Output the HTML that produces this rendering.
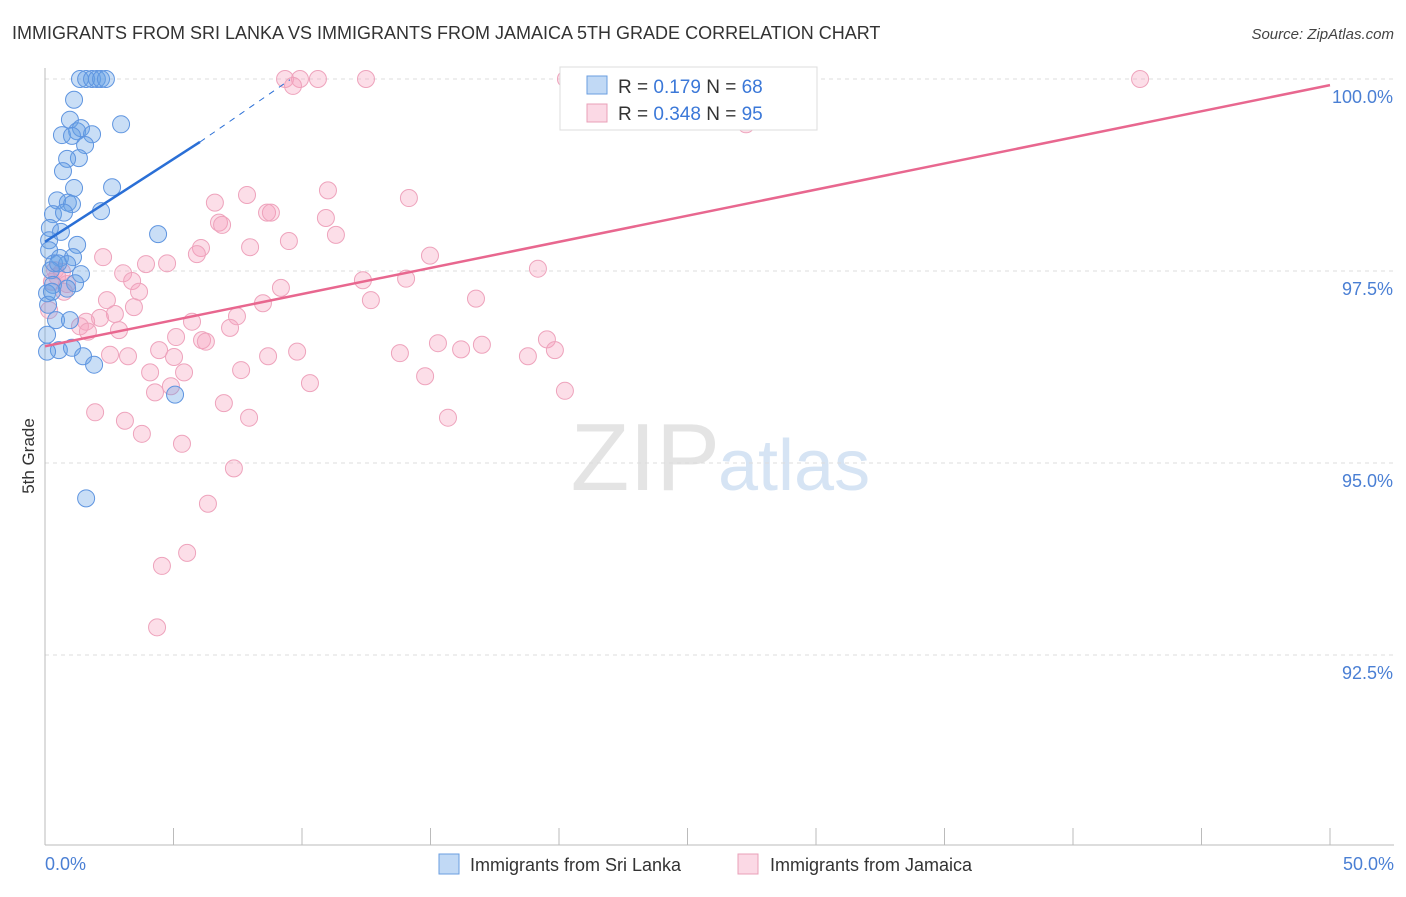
<!DOCTYPE html>
<html><head><meta charset="utf-8"><style>
body{margin:0;background:#fff;font-family:"Liberation Sans",sans-serif}
svg text{font-family:"Liberation Sans",sans-serif}
</style></head><body>
<svg id="chart" width="1406" height="892" viewBox="0 0 1406 892">
<text x="12" y="39" font-size="18" fill="#333">IMMIGRANTS FROM SRI LANKA VS IMMIGRANTS FROM JAMAICA 5TH GRADE CORRELATION CHART</text>
<text x="1394" y="39" font-size="15" fill="#444" text-anchor="end" font-style="italic">Source: ZipAtlas.com</text>
<text x="720" y="490" font-size="96" fill="#e4e4e4" text-anchor="end" font-family="Liberation Serif">ZIP</text>
<text x="718" y="490" font-size="72" fill="#d6e4f4">atlas</text>
<g id="grid"></g>
<line x1="45" y1="68" x2="45" y2="845" stroke="#bbb"/>
<line x1="45" y1="845" x2="1394" y2="845" stroke="#bbb"/>
<text transform="translate(34,456) rotate(-90)" font-size="17" fill="#333" text-anchor="middle">5th Grade</text>
<text x="45" y="870" font-size="18" fill="#4a7fd4">0.0%</text>
<text x="1394" y="870" font-size="18" fill="#4a7fd4" text-anchor="end">50.0%</text>
<g id="pts"></g>
<g id="trends"></g>
<g>
<rect x="560" y="67" width="257" height="63" fill="#fff" stroke="#ddd"/>
<rect x="587" y="76" width="20" height="18" fill="rgba(100,160,230,0.4)" stroke="#6a9ee0"/>
<rect x="587" y="104" width="20" height="18" fill="rgba(245,160,190,0.4)" stroke="#eaa0b8"/>
<text x="618" y="93" font-size="19" fill="#333">R = <tspan fill="#3b78d8">0.179</tspan>   N = <tspan fill="#3b78d8">68</tspan></text>
<text x="618" y="120" font-size="19" fill="#333">R = <tspan fill="#3b78d8">0.348</tspan>   N = <tspan fill="#3b78d8">95</tspan></text>
</g>
<g>
<rect x="439" y="854" width="20" height="20" fill="rgba(100,160,230,0.4)" stroke="#6a9ee0"/>
<text x="470" y="871" font-size="18" fill="#333">Immigrants from Sri Lanka</text>
<rect x="738" y="854" width="20" height="20" fill="rgba(245,160,190,0.4)" stroke="#eaa0b8"/>
<text x="770" y="871" font-size="18" fill="#333">Immigrants from Jamaica</text>
</g>
</svg>
<script>
const yTicks=[100,97.5,95,92.5];
const yTickLabels=["100.0%","97.5%","95.0%","92.5%"];
const xTicks=[0,5,10,15,20,25,30,35,40,45,50];
const sriX=[1.36,1.6,1.83,2.02,2.18,2.37,1.13,2.96,0.97,0.66,1.25,1.4,1.83,1.05,1.56,1.32,0.86,0.7,1.13,2.61,0.47,0.89,1.05,0.31,0.74,2.18,4.4,0.19,0.62,0.16,1.25,0.16,0.58,1.09,0.35,0.86,0.23,1.4,0.31,1.17,0.08,0.86,0.12,0.43,0.97,0.08,0.54,1.48,1.05,1.91,0.08,5.06,1.6,0.51,0.27];
const sriY=[100,100,100,100,100,100,99.73,99.41,99.47,99.27,99.32,99.36,99.28,99.26,99.14,98.97,98.96,98.8,98.58,98.59,98.42,98.39,98.37,98.24,98.26,98.28,97.98,98.06,98.01,97.9,97.84,97.77,97.67,97.68,97.6,97.59,97.51,97.46,97.32,97.34,97.21,97.27,97.06,96.86,96.86,96.67,96.47,96.39,96.5,96.28,96.45,95.89,94.54,97.6,97.23];
const jamX=[9.34,9.92,10.62,12.49,9.65,20.27,42.61,25.76,27.28,6.61,7.86,6.77,6.89,8.64,8.79,11.01,14.16,10.93,11.32,6.07,9.49,7.98,5.91,2.26,3.93,4.75,14.98,19.18,3.04,3.39,12.37,14.05,3.66,9.18,0.86,0.47,2.41,3.46,8.48,12.68,16.77,7.47,2.72,2.14,1.6,1.36,1.67,2.88,5.72,5.1,7.2,6.11,6.26,19.53,15.29,17.0,16.19,4.44,5.02,8.68,9.81,13.81,18.79,19.84,2.53,3.23,4.09,5.41,7.63,10.31,14.79,4.28,4.9,6.96,20.23,7.94,1.95,3.11,3.77,5.33,15.68,7.35,6.34,5.53,4.55,4.36,0.39,0.66,0.16,0.27,0.74];
const jamY=[100,100,100,100,99.91,100,100,100,99.41,98.39,98.49,98.13,98.1,98.26,98.26,98.55,98.45,98.19,97.97,97.8,97.89,97.81,97.72,97.68,97.59,97.6,97.7,97.53,97.47,97.37,97.38,97.4,97.23,97.28,97.33,97.43,97.12,97.03,97.08,97.12,97.14,96.91,96.94,96.89,96.84,96.78,96.71,96.73,96.84,96.64,96.76,96.6,96.58,96.61,96.56,96.54,96.48,96.47,96.38,96.39,96.45,96.43,96.39,96.47,96.41,96.39,96.18,96.18,96.21,96.04,96.13,95.92,96.0,95.78,95.94,95.59,95.66,95.55,95.38,95.25,95.59,94.93,94.47,93.83,93.66,92.86,97.51,97.49,96.99,97.36,97.23];
const sriTrend=[[0,97.88],[6.03,99.18]];
const sriTrendExt=[[6.03,99.18],[9.53,99.99]];
const jamTrend=[[0,96.52],[50,99.92]];
const NS="http://www.w3.org/2000/svg";
const X=v=>45+v*25.7, Y=v=>79+(100-v)*76.8;
function mk(t,a,p){const e=document.createElementNS(NS,t);for(const k in a)e.setAttribute(k,a[k]);p.appendChild(e);return e;}
const grid=document.getElementById('grid');
yTicks.forEach((t,i)=>{
 const l=mk('line',{x1:45,x2:1394,y1:Y(t),y2:Y(t),stroke:'#ddd','stroke-dasharray':'4,4'},grid);
 
 
 const tx=mk('text',{x:1393,y:Y(t)+24,'font-size':18,fill:'#4a7fd4','text-anchor':'end'},grid);
 tx.textContent=yTickLabels[i];
 
 
});
xTicks.forEach(t=>{
 const l=mk('line',{x1:X(t),x2:X(t),y1:828,y2:845,stroke:'#bbb'},grid);
 
 
});
const pts=document.getElementById('pts');
jamX.forEach((x,i)=>{
 const c=mk('circle',{cx:X(x),cy:Y(jamY[i]),r:8.5,fill:'rgba(245,160,190,0.35)',stroke:'#eea3bc','stroke-width':1},pts);
 
 
});
sriX.forEach((x,i)=>{
 const c=mk('circle',{cx:X(x),cy:Y(sriY[i]),r:8.5,fill:'rgba(100,160,230,0.35)',stroke:'#5f95e0','stroke-width':1},pts);
 
 
});
const tr=document.getElementById('trends');
let a=mk('line',{x1:X(jamTrend[0][0]),y1:Y(jamTrend[0][1]),x2:X(jamTrend[1][0]),y2:Y(jamTrend[1][1]),stroke:'#e8678f','stroke-width':2.5},tr);


a=mk('line',{x1:X(sriTrend[0][0]),y1:Y(sriTrend[0][1]),x2:X(sriTrend[1][0]),y2:Y(sriTrend[1][1]),stroke:'#2a6fd6','stroke-width':2.5},tr);


a=mk('line',{x1:X(sriTrendExt[0][0]),y1:Y(sriTrendExt[0][1]),x2:X(sriTrendExt[1][0]),y2:Y(sriTrendExt[1][1]),stroke:'#2a6fd6','stroke-width':1,'stroke-dasharray':'6,6'},tr);


</script>
</body></html>
